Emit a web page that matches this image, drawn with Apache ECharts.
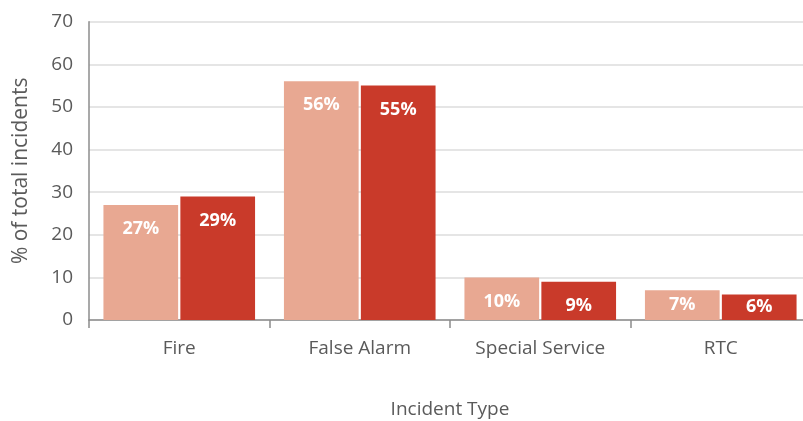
<!DOCTYPE html>
<html>
<head>
<meta charset="utf-8">
<script src="https://cdn.jsdelivr.net/npm/echarts@6/dist/echarts.min.js"></script>
<style>
  html, body { margin: 0; padding: 0; background: #fff; }
  #chart { width: 803px; height: 421px; }
</style>
</head>
<body>
<div id="chart"></div>
<script>
// Share of total incidents by type, two periods
const categories = ['Fire', 'False Alarm', 'Special Service', 'RTC'];
const periodA = [27, 56, 10, 7];
const periodB = [29, 55, 9, 6];
const yTicks = { min: 0, max: 70, interval: 10 };

const FONT = '"Open Sans", Lato, sans-serif';
const TEXT = '#5a5a5a';

const chart = echarts.init(document.getElementById('chart'), null, { renderer: 'canvas' });

const labelText = {
  show: true,
  color: '#fff',
  fontFamily: FONT,
  fontWeight: 'bold',
  fontSize: 18,
  formatter: p => Math.round(p.value) + '%'
};

// Short bars get their label centred, taller ones hang it from the top edge
function withLabels(values) {
  return values.map(v => ({
    value: v,
    label: v < 8
      ? Object.assign({}, labelText, { position: 'inside' })
      : Object.assign({}, labelText, { position: 'insideTop', distance: 15 })
  }));
}

chart.setOption({
  animation: false,
  backgroundColor: '#fff',
  grid: {
    left: 89, right: -8, top: 21.7, bottom: 101,
    containLabel: false,
    outerBoundsMode: 'none'
  },
  xAxis: {
    type: 'category',
    data: categories,
    name: 'Incident Type',
    nameLocation: 'middle',
    nameGap: 80,
    nameTextStyle: { color: TEXT, fontFamily: FONT, fontSize: 19 },
    axisLine: { show: true, lineStyle: { color: '#8c8c8c', width: 1.5 } },
    axisTick: { show: true, alignWithLabel: false, length: 8, lineStyle: { color: '#8c8c8c', width: 1.5 } },
    axisLabel: { color: TEXT, fontFamily: FONT, fontSize: 19, margin: 19 },
    splitLine: { show: false }
  },
  yAxis: {
    type: 'value',
    min: yTicks.min,
    max: yTicks.max,
    interval: yTicks.interval,
    name: '% of total incidents',
    nameLocation: 'middle',
    nameRotate: 90,
    nameGap: 57,
    nameTextStyle: { color: TEXT, fontFamily: FONT, fontSize: 21 },
    axisLine: { show: true, lineStyle: { color: '#8c8c8c', width: 1.5 } },
    axisTick: { show: false },
    axisLabel: { color: TEXT, fontFamily: FONT, fontSize: 19, margin: 16 },
    splitLine: { show: true, lineStyle: { color: '#dcdcdc', width: 1.5 } }
  },
  series: [
    {
      type: 'bar',
      data: withLabels(periodA),
      itemStyle: { color: '#e8a892' },
      barGap: '3%',
      barCategoryGap: '16%'
    },
    {
      type: 'bar',
      data: withLabels(periodB),
      itemStyle: { color: '#c93a2a' }
    }
  ]
});
</script>
</body>
</html>
